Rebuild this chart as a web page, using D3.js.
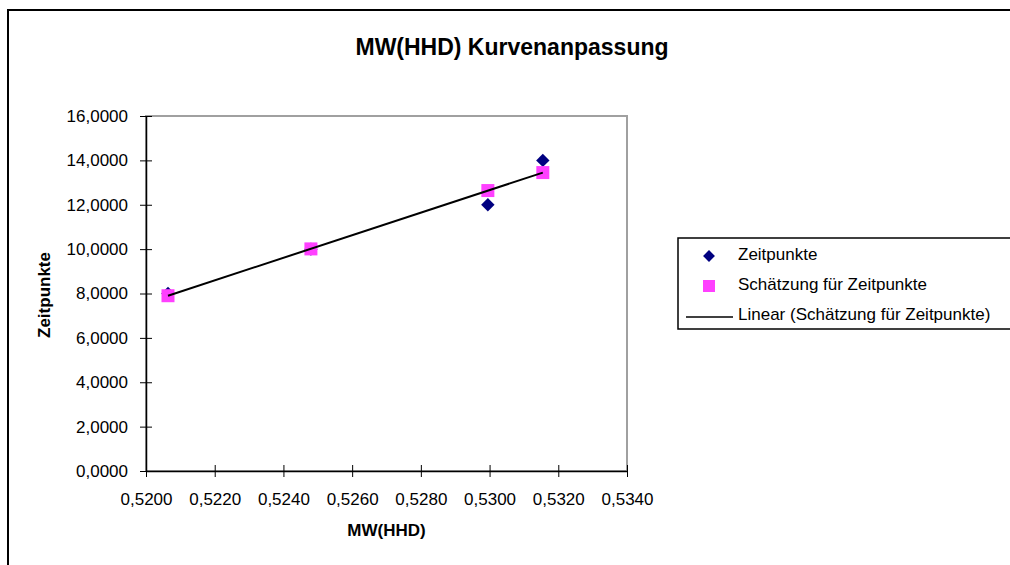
<!DOCTYPE html>
<html>
<head>
<meta charset="utf-8">
<script src="https://cdn.jsdelivr.net/npm/d3@7"></script>
<style>
    body { margin: 0; background: #fff; }
    svg text { font-family: Arial, "Liberation Sans", sans-serif; fill: #000; }
</style>
</head>
<body>
<div id="chart"></div>
<script>
// data
var mwValues = [0.52064, 0.52480, 0.52995, 0.53155];
var zeitpunkte = [8, 10, 12, 14];
var schaetzung = [7.90, 10.01, 12.64, 13.45];
var xTicks = [0.520, 0.522, 0.524, 0.526, 0.528, 0.530, 0.532, 0.534];
var yTicks = [0, 2, 4, 6, 8, 10, 12, 14, 16];
var legendLabels = ['Zeitpunkte', 'Schätzung für Zeitpunkte', 'Linear (Schätzung für Zeitpunkte)'];

var width = 1010,
    height = 565,
    plot = {left: 146, right: 627, top: 116, bottom: 471};

var fmt4 = function (v) { return d3.format('.4f')(v).replace('.', ','); };

var svg = d3.select('#chart')
    .append('svg')
    .attr('width', width)
    .attr('height', height);

// outer chart border (runs off the right and bottom)
svg.append('rect')
    .attr('x', 8).attr('y', 10)
    .attr('width', 1040).attr('height', 600)
    .attr('fill', 'none')
    .attr('stroke', '#000')
    .attr('stroke-width', 2);

var xScale = d3.scaleLinear()
    .domain([0.520, 0.534])
    .range([plot.left, plot.right]);

var yScale = d3.scaleLinear()
    .domain([0, 16])
    .range([plot.bottom, plot.top]);

// plot area frame (grey top/right)
svg.append('rect')
    .attr('x', plot.left).attr('y', plot.top)
    .attr('width', plot.right - plot.left)
    .attr('height', plot.bottom - plot.top)
    .attr('fill', 'none')
    .attr('stroke', '#a0a0a0')
    .attr('stroke-width', 2);

// axes
var xAxis = svg.append('g')
    .attr('transform', 'translate(0,' + plot.bottom + ')')
    .call(d3.axisBottom(xScale).tickValues(xTicks).tickFormat(fmt4).tickSizeInner(6).tickSizeOuter(0).tickPadding(16));
xAxis.select('.domain').attr('stroke', '#000').attr('stroke-width', 1.5);
xAxis.selectAll('.tick line').attr('y1', -6).attr('stroke', '#000');
xAxis.selectAll('text').style('font-size', '17px');

var yAxis = svg.append('g')
    .attr('transform', 'translate(' + plot.left + ',0)')
    .call(d3.axisLeft(yScale).tickValues(yTicks).tickFormat(fmt4).tickSizeInner(6).tickSizeOuter(0).tickPadding(12));
yAxis.select('.domain').attr('stroke', '#000').attr('stroke-width', 1.5);
yAxis.selectAll('.tick line').attr('x1', -6).attr('x2', 6).attr('stroke', '#000');
yAxis.selectAll('text').style('font-size', '17px');

// diamonds
svg.append('g')
    .selectAll('path')
    .data(zeitpunkte)
    .enter()
    .append('path')
    .attr('d', d3.symbol().type(d3.symbolSquare).size(90))
    .attr('transform', function (d, i) {
        return 'translate(' + xScale(mwValues[i]) + ',' + yScale(d) + ') rotate(45)';
    })
    .attr('fill', '#000080');

// squares
svg.append('g')
    .selectAll('rect')
    .data(schaetzung)
    .enter()
    .append('rect')
    .attr('x', function (d, i) { return xScale(mwValues[i]) - 6.5; })
    .attr('y', function (d) { return yScale(d) - 6.5; })
    .attr('width', 13).attr('height', 13)
    .attr('fill', '#ff40ff');

// linear trend through the estimates, first to last point
var last = mwValues.length - 1;
var line = d3.line()
    .x(function (d) { return xScale(mwValues[d]); })
    .y(function (d) { return yScale(schaetzung[d]); });

svg.append('path')
    .datum([0, last])
    .attr('d', line)
    .attr('fill', 'none')
    .attr('stroke', '#000')
    .attr('stroke-width', 2);

// titles
svg.append('text')
    .attr('x', 512).attr('y', 55)
    .attr('text-anchor', 'middle')
    .style('font-size', '23px').style('font-weight', 'bold')
    .text('MW(HHD) Kurvenanpassung');

svg.append('text')
    .attr('x', (plot.left + plot.right) / 2).attr('y', 536)
    .attr('text-anchor', 'middle')
    .style('font-size', '17px').style('font-weight', 'bold')
    .text('MW(HHD)');

svg.append('text')
    .attr('transform', 'translate(50,' + 295 + ') rotate(-90)')
    .attr('text-anchor', 'middle')
    .style('font-size', '17px').style('font-weight', 'bold')
    .text('Zeitpunkte');

// legend
var legend = svg.append('g');
legend.append('rect')
    .attr('x', 678).attr('y', 238)
    .attr('width', 340).attr('height', 91)
    .attr('fill', '#fff')
    .attr('stroke', '#000')
    .attr('stroke-width', 1.5);

var rowY = [254, 284, 314];
legend.append('path')
    .attr('d', d3.symbol().type(d3.symbolSquare).size(70))
    .attr('transform', 'translate(709,' + (rowY[0] + 2) + ') rotate(45)')
    .attr('fill', '#000080');
legend.append('rect')
    .attr('x', 703).attr('y', rowY[1] - 4)
    .attr('width', 12).attr('height', 12)
    .attr('fill', '#ff40ff');
legend.append('line')
    .attr('x1', 686).attr('x2', 733)
    .attr('y1', rowY[2] + 3).attr('y2', rowY[2] + 3)
    .attr('stroke', '#000').attr('stroke-width', 1.5);

legend.selectAll('text')
    .data(legendLabels)
    .enter()
    .append('text')
    .attr('x', 738)
    .attr('y', function (d, i) { return rowY[i]; })
    .attr('dy', '0.35em')
    .style('font-size', '17px')
    .text(function (d) { return d; });
</script>
</body>
</html>
